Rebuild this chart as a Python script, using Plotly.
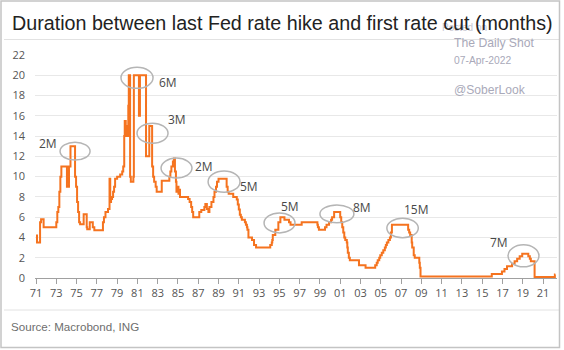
import plotly.graph_objects as go

# ---- data ----
years = [1971.0, 1971.1, 1971.4, 1971.5, 1971.75, 1973.0, 1973.1, 1973.2, 1973.3, 1973.4, 1973.5,
         1974.05, 1974.25, 1974.4, 1974.85, 1974.95, 1975.05, 1975.15, 1975.25, 1975.35,
         1975.7, 1976.0, 1976.05, 1976.3, 1976.6, 1976.75, 1977.6, 1977.7, 1977.85, 1978.1,
         1978.25, 1978.32, 1978.4, 1978.5, 1978.6, 1978.7, 1978.8, 1979.0, 1979.3, 1979.5,
         1979.6, 1979.7, 1979.75, 1979.85, 1979.9, 1980.0, 1980.1, 1980.15, 1980.28, 1980.35,
         1980.6, 1980.65, 1981.15, 1981.25, 1981.85, 1982.17, 1982.45, 1982.55, 1982.65, 1982.8,
         1982.9, 1983.4, 1984.15, 1984.25, 1984.35, 1984.5, 1984.6, 1984.7, 1984.8, 1984.85,
         1984.95, 1985.05, 1985.1, 1985.2, 1986.0, 1986.15, 1986.3, 1986.4, 1986.5, 1987.0,
         1987.1, 1987.3, 1987.6, 1987.7, 1987.85, 1988.0, 1988.1, 1988.3, 1988.5, 1988.6,
         1988.75, 1988.85, 1989.0, 1989.8, 1989.9, 1990.0, 1990.45, 1990.8, 1990.9, 1991.0,
         1991.1, 1991.2, 1991.3, 1991.6, 1991.7, 1991.8, 1991.85, 1991.95, 1992.3, 1992.5,
         1992.7, 1994.1, 1994.25, 1994.3, 1994.35, 1994.6, 1994.9, 1995.1, 1995.5, 1995.95,
         1996.1, 1997.2, 1998.75, 1998.8, 1998.9, 1999.5, 1999.65, 1999.9, 2000.1, 2000.2,
         2000.4, 2001.0, 2001.1, 2001.2, 2001.3, 2001.4, 2001.5, 2001.65, 2001.7, 2001.75,
         2001.85, 2001.95, 2002.85, 2003.5, 2004.45, 2004.6, 2004.7, 2004.85, 2004.95, 2005.1,
         2005.25, 2005.4, 2005.5, 2005.6, 2005.75, 2005.9, 2006.0, 2006.1, 2007.7, 2007.8,
         2007.9, 2008.05, 2008.1, 2008.25, 2008.35, 2008.8, 2008.85, 2008.92, 2015.95, 2016.95,
         2017.2, 2017.45, 2017.95, 2018.2, 2018.45, 2018.7, 2018.95, 2019.55, 2019.7, 2019.8,
         2020.17, 2022.17, 2022.22]
rate = [4.2, 3.5, 5.5, 5.8, 5.0, 5.5, 6.5, 7.0, 8.5, 10.0, 11.0,
        9.0, 11.0, 13.0, 10.0, 9.0, 7.5, 6.5, 5.5, 5.3,
        6.3, 5.0, 4.8, 5.5, 5.0, 4.7, 5.5, 6.0, 6.5, 6.8,
        9.8, 7.5, 7.8, 8.0, 8.5, 9.0, 9.8, 10.0, 10.2, 10.5,
        11.0, 14.0, 15.5, 14.0, 15.0, 14.0, 17.0, 20.0, 10.0, 9.5,
        10.0, 20.0, 16.0, 20.0, 12.0, 15.0, 11.0, 10.0, 9.5, 9.0,
        8.5, 9.6, 10.0, 10.5, 11.0, 11.5, 11.8, 10.5, 9.5, 8.5,
        9.0, 8.3, 8.7, 8.0, 7.8, 7.5, 7.0, 6.5, 6.0, 6.0,
        6.5, 6.7, 7.0, 7.3, 6.8, 6.5, 7.0, 7.5, 8.0, 8.5,
        9.0, 9.5, 9.8, 9.0, 8.5, 8.3, 8.0, 7.75, 7.25, 6.75,
        6.25, 6.0, 5.75, 5.5, 5.25, 5.0, 4.75, 4.0, 3.75, 3.25,
        3.0, 3.25, 3.5, 3.75, 4.25, 4.75, 5.5, 6.0, 5.75, 5.5,
        5.25, 5.5, 5.25, 5.0, 4.75, 5.0, 5.25, 5.5, 5.75, 6.0,
        6.5, 6.0, 5.5, 5.0, 4.5, 4.0, 3.75, 3.5, 3.0, 2.5,
        2.0, 1.75, 1.25, 1.0, 1.25, 1.5, 1.75, 2.0, 2.25, 2.5,
        2.75, 3.0, 3.25, 3.5, 3.75, 4.0, 4.5, 5.25, 4.75, 4.5,
        4.25, 3.5, 3.0, 2.25, 2.0, 1.5, 1.0, 0.15, 0.4, 0.65,
        0.9, 1.15, 1.4, 1.65, 1.9, 2.15, 2.4, 2.15, 1.9, 1.65,
        0.1, 0.35, 0.35]

tick_years = list(range(1971, 2022, 2))
tick_labels = [f"{y % 100:02d}" for y in tick_years]
y_ticks = list(range(0, 23, 2))

# annotations: gray ellipses around each last-hike episode and its label
ell_x0 = [1973.37, 1979.38, 1980.96, 1983.33, 1987.97, 1993.49, 1999.0, 2005.6, 2017.55]
ell_x1 = [1976.33, 1982.54, 1984.02, 1986.38, 1991.12, 1996.54, 2002.35, 2008.7, 2020.6]
ell_y0 = [11.63, 18.71, 13.3, 9.86, 8.45, 4.45, 5.44, 3.96, 1.1]
ell_y1 = [13.4, 20.78, 15.27, 11.83, 10.55, 6.42, 7.2, 5.9, 3.27]
lab_text = ["2M", "6M", "3M", "2M", "5M", "5M", "8M", "15M", "7M"]
lab_x = [1972.2, 1984.0, 1984.9, 1987.6, 1992.0, 1996.05, 2003.1, 2008.5, 2016.7]
lab_y = [13.3, 19.3, 15.6, 11.0, 9.0, 7.1, 7.0, 6.75, 3.5]

# ---- layout geometry ----
WIDTH, HEIGHT = 564, 350
L, R, T, B = 35, 7, 55, 72
PW, PH = WIDTH - L - R, HEIGHT - T - B


def px(xp):
    return (xp - L) / PW


def py(yp):
    return 1 - (yp - T) / PH


fig = go.Figure()
fig.add_trace(go.Scatter(x=years, y=rate, mode="lines", line=dict(color="#f5731f", width=2, shape="hv"),
                         hoverinfo="skip", showlegend=False))

shapes = []
for a, b, c, d in zip(ell_x0, ell_x1, ell_y0, ell_y1):
    shapes.append(dict(type="circle", xref="x", yref="y", x0=a, x1=b, y0=c, y1=d,
                       line=dict(color="#b5b5b5", width=1.5)))
# title rule, footer rule, outer border
shapes.append(dict(type="line", xref="paper", yref="paper", x0=px(4), x1=px(559), y0=py(39.5), y1=py(39.5),
                   line=dict(color="#e2e2e2", width=1)))
shapes.append(dict(type="line", xref="paper", yref="paper", x0=px(4), x1=px(559), y0=py(310), y1=py(310),
                   line=dict(color="#e2e2e2", width=1)))
shapes.append(dict(type="rect", xref="paper", yref="paper", x0=px(1), x1=px(559.5), y0=py(1), y1=py(347.5),
                   line=dict(color="#c4c4c4", width=1.5)))

annotations = []
for t, x, y in zip(lab_text, lab_x, lab_y):
    annotations.append(dict(text=t, x=x, y=y, xref="x", yref="y", showarrow=False,
                            font=dict(family="Open Sans", size=12, color="#484848")))

wm_color = "#a9a9b9"
annotations += [
    dict(text="Posted on", x=px(440), y=py(27), xref="paper", yref="paper", xanchor="left", yanchor="middle",
         showarrow=False, font=dict(family="Liberation Sans", size=10, color="#c8c8d2")),
    dict(text="The Daily Shot", x=px(452), y=py(43), xref="paper", yref="paper", xanchor="left", yanchor="middle",
         showarrow=False, font=dict(family="Liberation Sans", size=12.2, color=wm_color)),
    dict(text="07-Apr-2022", x=px(452), y=py(61), xref="paper", yref="paper", xanchor="left", yanchor="middle",
         showarrow=False, font=dict(family="Liberation Sans", size=10.3, color=wm_color)),
    dict(text="@SoberLook", x=px(452), y=py(90), xref="paper", yref="paper", xanchor="left", yanchor="middle",
         showarrow=False, font=dict(family="Liberation Sans", size=12.1, color=wm_color)),
    dict(text="Duration between last Fed rate hike and first rate cut (months)", x=px(9.5), y=py(23),
         xref="paper", yref="paper", xanchor="left", yanchor="middle", showarrow=False,
         font=dict(family="Liberation Sans", size=19.7, color="#222222")),
    dict(text="Source: Macrobond, ING", x=px(9), y=py(326), xref="paper", yref="paper", xanchor="left",
         yanchor="middle", showarrow=False, font=dict(family="Liberation Sans", size=11.6, color="#6e6e6e")),
]

fig.update_layout(
    width=WIDTH, height=HEIGHT, margin=dict(l=L, r=R, t=T, b=B),
    paper_bgcolor="white", plot_bgcolor="white",
    shapes=shapes, annotations=annotations, showlegend=False,
    xaxis=dict(range=[1970.9, 2022.38], tickmode="array", tickvals=tick_years, ticktext=tick_labels,
               showgrid=False, zeroline=False, showline=True, linecolor="#a0a0a0", linewidth=1,
               ticks="outside", ticklen=5, tickcolor="#a0a0a0",
               tickfont=dict(family="Open Sans", size=11, color="#555555"), fixedrange=True),
    yaxis=dict(range=[0, 22], tickmode="array", tickvals=y_ticks, showgrid=True, gridcolor="#e8e8e8",
               gridwidth=1, zeroline=False, showline=False, ticks="", ticklabelstandoff=9,
               tickfont=dict(family="Open Sans", size=11, color="#555555"), fixedrange=True),
)

fig.write_html("out.html", config={"displayModeBar": False})
